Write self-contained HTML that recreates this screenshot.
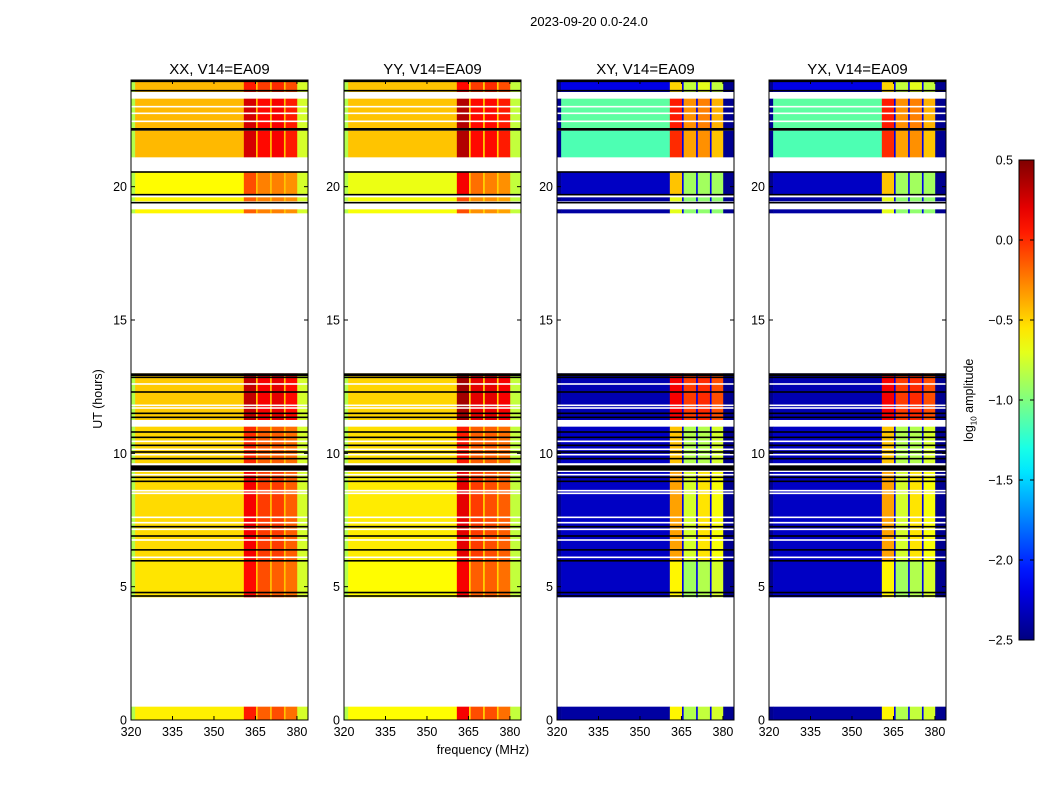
<!DOCTYPE html>
<html><head><meta charset="utf-8">
<style>
html,body{margin:0;padding:0;background:#fff;}
svg{display:block;font-family:"Liberation Sans",sans-serif;}
</style></head>
<body>
<svg id="fig" width="1050" height="800" viewBox="0 0 1050 800"></svg>
<script>
// ---- data ----
const panelTitles = ["XX, V14=EA09","YY, V14=EA09","XY, V14=EA09","YX, V14=EA09"];
const xTicks = [320,335,350,365,380];
const yTicks = [0,5,10,15,20];
const cbTicks = [0.5,0.0,-0.5,-1.0,-1.5,-2.0,-2.5];
// frequency band edges (MHz): leftEdge, base, b1, gap, b2, gap, b3, gap, b4, edge
const freqEdges = [320,321.5,360.8,365.2,365.8,370.3,370.9,375.3,375.9,380.1,384];
// time blocks with data (hours)
const blockStart = [0,4.6,6.0,9.6,11.25,19.0,19.45,19.7,21.1,22.2,23.55];
const blockEnd   = [0.5,6.0,9.3,11.0,13.0,19.15,19.6,20.55,22.1,23.3,24];
// per-block values: [base, b1, b2, b3, b4] (log10 amplitude)
const xxVals = [[-0.58,0.05,-0.15,-0.1,-0.2],[-0.55,0.1,-0.1,-0.15,-0.2],[-0.52,0.15,-0.05,-0.05,-0.15],[-0.5,0.0,-0.15,-0.15,-0.2],[-0.47,0.3,0.15,0.2,0.1],[-0.6,-0.15,-0.25,-0.25,-0.3],[-0.6,-0.15,-0.25,-0.25,-0.3],[-0.62,-0.1,-0.25,-0.25,-0.3],[-0.42,0.25,0.1,0.15,0.05],[-0.42,0.25,0.1,0.15,0.05],[-0.42,0.05,-0.05,0.0,-0.1]];
const yyVals = [[-0.62,0.15,-0.1,-0.1,-0.2],[-0.62,0.15,-0.15,-0.15,-0.2],[-0.57,0.2,-0.05,-0.1,-0.15],[-0.53,0.05,-0.15,-0.15,-0.2],[-0.5,0.4,0.2,0.2,0.15],[-0.65,-0.1,-0.3,-0.3,-0.35],[-0.65,-0.1,-0.3,-0.3,-0.35],[-0.68,0.15,-0.2,-0.25,-0.3],[-0.45,0.35,0.1,0.1,0.05],[-0.45,0.35,0.1,0.1,0.05],[-0.45,0.1,-0.05,0.0,-0.1]];
const xyVals = [[-2.4,-0.6,-0.85,-0.8,-0.75],[-2.3,-0.6,-0.9,-0.85,-0.75],[-2.3,-0.35,-0.75,-0.55,-0.65],[-2.3,-0.45,-0.85,-0.85,-0.75],[-2.35,0.15,-0.05,0.0,-0.1],[-2.4,-0.7,-0.95,-0.95,-0.95],[-2.4,-0.7,-0.95,-0.95,-0.95],[-2.3,-0.45,-0.9,-0.9,-0.9],[-1.15,0.0,-0.35,-0.3,-0.45],[-1.1,0.05,-0.3,-0.25,-0.4],[-2.2,-0.5,-0.8,-0.7,-0.8]];
const yxVals = [[-2.4,-0.6,-0.85,-0.8,-0.75],[-2.3,-0.6,-0.9,-0.85,-0.75],[-2.3,-0.35,-0.75,-0.55,-0.65],[-2.3,-0.45,-0.85,-0.85,-0.75],[-2.35,0.15,-0.05,0.0,-0.1],[-2.4,-0.7,-0.95,-0.95,-0.95],[-2.4,-0.7,-0.95,-0.95,-0.95],[-2.3,-0.45,-0.9,-0.9,-0.9],[-1.15,0.0,-0.35,-0.3,-0.45],[-1.1,0.05,-0.3,-0.25,-0.4],[-2.2,-0.5,-0.8,-0.7,-0.8]];
const gapVals = [-0.45,-0.5,-2.2,-2.2];
const leftEdgeVals = [-0.85,-0.85,-2.45,-2.45];
const rightEdgeVals = [-0.75,-0.8,-2.45,-2.45];
// flagged rows
const blackLines = [4.65,4.78,5.97,6.38,6.9,7.25,8.95,9.1,9.8,10.05,10.3,10.6,10.8,11.35,11.5,12.3,12.85,19.4,19.7,20.55,23.6,23.95];
const whiteLines = [7.6,7.4,7.15,6.75,6.1,8.5,8.6,9.2,9.6,10.15,10.45,9.95,11.7,11.8,12.6,22.45,22.75,23.0];
const thickBlackStart = [9.35,12.9,22.1];
const thickBlackEnd   = [9.55,13.0,22.2];

// ---- geometry ----
const panelX0 = [131,344,557,769];
const panelW = 177, py0 = 80, py1 = 720;
const fMin = 320, fMax = 384, tMin = 0, tMax = 24;
function xs(p,f){ return panelX0[p] + (f-fMin)/(fMax-fMin)*panelW; }
function ys(t){ return py1 - (t-tMin)/(tMax-tMin)*(py1-py0); }
function jet(v){
  let x=(v+2.5)/3; x=Math.max(0,Math.min(1,x));
  const c=(a)=>Math.round(255*Math.max(0,Math.min(1,a)));
  const r=Math.min(4*x-1.5,-4*x+4.5), g=Math.min(4*x-0.5,-4*x+3.5), b=Math.min(4*x+0.5,-4*x+2.5);
  return `rgb(${c(r)},${c(g)},${c(b)})`;
}
const NS="http://www.w3.org/2000/svg";
const svg=document.getElementById('fig');
function el(tag,attrs,parent){const e=document.createElementNS(NS,tag);for(const k in attrs)e.setAttribute(k,attrs[k]);(parent||svg).appendChild(e);return e;}
function txt(s,attrs,parent){const e=el('text',attrs,parent);e.textContent=s;return e;}

const allVals=[xxVals,yyVals,xyVals,yxVals];
for(let p=0;p<4;p++){
  const g=el('g',{});
  
  
  const vals=allVals[p];
  for(let b=0;b<blockStart.length;b++){
    const v=vals[b];
    const bandVals=[leftEdgeVals[p],v[0],v[1],gapVals[p],v[2],gapVals[p],v[3],gapVals[p],v[4],rightEdgeVals[p]];
    const y0=ys(blockEnd[b]), y1=ys(blockStart[b]);
    for(let k=0;k<bandVals.length;k++){
      const r=el('rect',{x:xs(p,freqEdges[k]),y:y0,width:xs(p,freqEdges[k+1])-xs(p,freqEdges[k])+0.3,height:y1-y0,fill:jet(bandVals[k])},g);
      
      
    }
  }
  for(const t of whiteLines){
    const r=el('rect',{x:panelX0[p],y:ys(t)-0.8,width:panelW,height:1.6,fill:'#fff'},g);
    
    
  }
  for(const t of blackLines){
    const r=el('rect',{x:panelX0[p],y:ys(t)-0.8,width:panelW,height:1.6,fill:'#000'},g);
    
    
  }
  for(let i=0;i<thickBlackStart.length;i++){
    const r=el('rect',{x:panelX0[p],y:ys(thickBlackEnd[i]),width:panelW,height:ys(thickBlackStart[i])-ys(thickBlackEnd[i]),fill:'#000'},g);
    
    
  }
  const fr=el('rect',{x:panelX0[p],y:py0,width:panelW,height:py1-py0,fill:'none',stroke:'#000','stroke-width':1},g);
  
  
  for(const t of xTicks){
    const x=xs(p,t);
    el('line',{x1:x,x2:x,y1:py1,y2:py1-4,stroke:'#000'},g);
    el('line',{x1:x,x2:x,y1:py0,y2:py0+4,stroke:'#000'},g);
    const l=txt(String(t),{x:x,y:py1+16,'font-size':12.5,'text-anchor':'middle'},g);
    
    
  }
  for(const t of yTicks){
    const y=ys(t);
    el('line',{x1:panelX0[p],x2:panelX0[p]+4,y1:y,y2:y,stroke:'#000'},g);
    el('line',{x1:panelX0[p]+panelW,x2:panelX0[p]+panelW-4,y1:y,y2:y,stroke:'#000'},g);
    const l=txt(String(t),{x:panelX0[p]-4,y:y+4.5,'font-size':12.5,'text-anchor':'end'},g);
    
    
  }
  const tt=txt(panelTitles[p],{x:panelX0[p]+panelW/2,y:74,'font-size':15,'text-anchor':'middle'},g);
  
  
}
// colorbar
const cbX=1019, cbW=15, cbY0=160, cbY1=640;
const cbg=el('g',{});


const defs=el('defs',{});
const grad=el('linearGradient',{id:'jetg',x1:0,y1:1,x2:0,y2:0},defs);
for(let i=0;i<=20;i++){el('stop',{offset:i/20,'stop-color':jet(-2.5+3*i/20)},grad);}
el('rect',{x:cbX,y:cbY0,width:cbW,height:cbY1-cbY0,fill:'url(#jetg)',stroke:'#000'},cbg);
for(const t of cbTicks){
  const y=cbY1-(t+2.5)/3*(cbY1-cbY0);
  el('line',{x1:cbX,x2:cbX+4,y1:y,y2:y,stroke:'#000'},cbg);
  el('line',{x1:cbX+cbW,x2:cbX+cbW-4,y1:y,y2:y,stroke:'#000'},cbg);
  const l=txt(t.toFixed(1).replace('-','\u2212'),{x:cbX-6,y:y+4.5,'font-size':12.5,'text-anchor':'end'},cbg);
  
  
}
</script>
<div style="position:absolute;left:0;top:0;width:1050px;height:800px;pointer-events:none;font-family:'Liberation Sans',sans-serif;">
  <div style="position:absolute;left:489px;top:14px;width:200px;text-align:center;font-size:13px;">2023-09-20 0.0-24.0</div>
  <div style="position:absolute;left:383px;top:743px;width:200px;text-align:center;font-size:12.5px;">frequency (MHz)</div>
  <div style="position:absolute;left:38px;top:392px;width:120px;text-align:center;font-size:12.5px;transform:rotate(-90deg);">UT (hours)</div>
  <div style="position:absolute;left:910px;top:392px;width:120px;text-align:center;font-size:12.5px;transform:rotate(-90deg);">log<sub style="font-size:8px">10</sub> amplitude</div>
</div>
</body></html>
